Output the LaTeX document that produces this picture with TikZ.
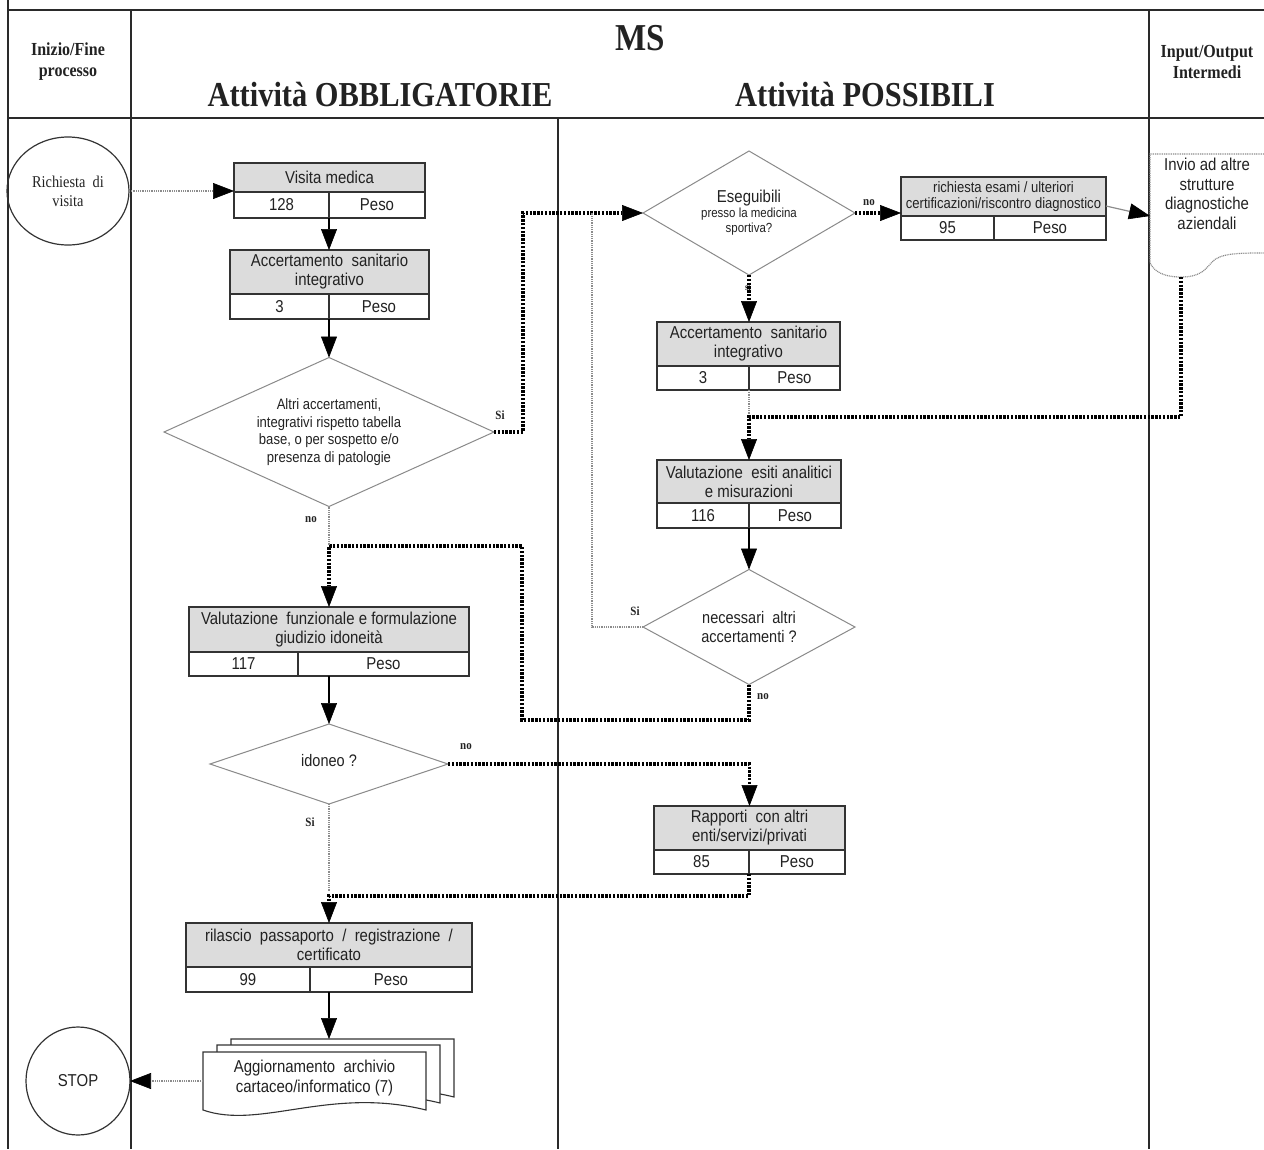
\documentclass[tikz,border=0pt]{standalone}
\usepackage{fontspec}
% the printed lettering is tall and narrow
\setmainfont{Liberation Serif}[FakeStretch=0.87]
\newfontfamily\arialf{Liberation Sans}[FakeStretch=0.87]
\usetikzlibrary{arrows.meta,shapes.geometric,calc}

\definecolor{frameline}{HTML}{2A2A2A}
\definecolor{boxline}{HTML}{333333}
\definecolor{hdrfill}{HTML}{DCDCDC}
\definecolor{diamline}{HTML}{8A8A8A}
\definecolor{txt}{HTML}{222222}
\definecolor{faint}{HTML}{8C8C8C}

\tikzset{
  frame/.style={draw=frameline, line width=1.5pt},
  lanehead/.style={align=center, text=txt, inner sep=0pt, font={\bfseries\fontsize{18.4}{21}\selectfont}},
  boxhead/.style={draw=boxline, fill=hdrfill, line width=1.3pt, anchor=north west, inner sep=1pt, outer sep=0pt,
    align=center, text=txt, font={\arialf\fontsize{17.2}{19}\selectfont}},
  boxcell/.style={draw=boxline, fill=white, line width=1.3pt, anchor=north west, inner sep=0pt, outer sep=0pt,
    text=txt, font={\arialf\fontsize{17.2}{18}\selectfont}},
  decision/.style={diamond, draw=diamline, line width=1pt, inner sep=0pt, outer sep=0pt, align=center, text=txt, fill=white},
  terminal/.style={ellipse, draw=boxline, line width=1.2pt, inner sep=0pt, outer sep=0pt, align=center, text=txt},
  sheet/.style={anchor=north west, inner sep=0pt, outer sep=0pt, minimum width=223pt, minimum height=58pt},
  sheetline/.style={draw=boxline, line width=1.1pt, fill=white},
  docline/.style={draw=faint, line width=1.2pt, dash pattern=on 1pt off 0.8pt},
  lbl/.style={font={\bfseries\fontsize{12.6}{13}\selectfont}, text=txt, inner sep=0pt},
  tip/.style={-{Triangle[length=21pt,width=16pt,line width=0.6pt,color=black]}},
  flow/.style={draw=black, line width=1.2pt, tip},
  hotflow/.style={draw=black, line width=3.2pt, dash pattern=on 2.4pt off 1.4pt, tip},
  softflow/.style={draw=faint, line width=1.3pt, dash pattern=on 1pt off 0.8pt, tip},
  softlink/.style={draw=faint, line width=1.3pt, dash pattern=on 1pt off 0.8pt},
  softsolid/.style={draw=faint, line width=1.2pt, tip},
}

\begin{document}
\begin{tikzpicture}[x=1pt,y=-1pt]
\useasboundingbox (0,0) rectangle (1264,1149);

% swimlane grid
\draw[frame] (8,10) -- (1264,10);
\draw[frame] (8,118) -- (1264,118);
\draw[frame] (8,0) -- (8,1149);
\draw[frame] (131,10) -- (131,1149);
\draw[frame] (1149,10) -- (1149,1149);
\draw[frame] (558,118) -- (558,1149);

% lane titles
\node[lanehead] (hstart) at (68,62) {Inizio/Fine\\processo};
\node[text=txt, inner sep=0pt, font={\bfseries\fontsize{38}{40}\selectfont}] (hms) at (640,38) {MS};
\node[text=txt, inner sep=0pt, font={\bfseries\fontsize{35}{38}\selectfont}] (hobb) at (380,95) {Attività OBBLIGATORIE};
\node[text=txt, inner sep=0pt, font={\bfseries\fontsize{35}{38}\selectfont}] (hposs) at (865,95) {Attività POSSIBILI};
\node[lanehead] (hio) at (1207,62) {Input/Output\\Intermedi};

% start / end
\node[terminal, minimum width=122pt, minimum height=108pt, font={\fontsize{16.5}{19}\selectfont}] (req) at (68,191) {Richiesta\ \ di\\visita};
\node[terminal, minimum width=104pt, minimum height=108pt, font={\arialf\fontsize{17.2}{18}\selectfont}] (stop) at (78,1081) {STOP};

% activity boxes: title row, count cell, weight cell
\node[boxhead, minimum width=191pt, minimum height=29pt] (vmh) at (234,163) {Visita medica};
\node[boxcell, minimum width=95pt, minimum height=26pt] (vmn) at (vmh.south west) {128};
\node[boxcell, minimum width=96pt, minimum height=26pt] (vmp) at (vmn.north east) {Peso};

\node[boxhead, minimum width=199pt, minimum height=44pt] (ach) at (230,250) {Accertamento\ \ sanitario\\integrativo};
\node[boxcell, minimum width=99pt, minimum height=25pt] (acn) at (ach.south west) {3};
\node[boxcell, minimum width=100pt, minimum height=25pt] (acp) at (acn.north east) {Peso};

\node[boxhead, minimum width=205pt, minimum height=39pt, font={\arialf\fontsize{15}{16}\selectfont}] (reh) at (901,177) {richiesta esami / ulteriori\\certificazioni/riscontro diagnostico};
\node[boxcell, minimum width=93pt, minimum height=24pt] (ren) at (reh.south west) {95};
\node[boxcell, minimum width=112pt, minimum height=24pt] (rep) at (ren.north east) {Peso};

\node[boxhead, minimum width=183pt, minimum height=44pt] (a2h) at (657,322) {Accertamento\ \ sanitario\\integrativo};
\node[boxcell, minimum width=92pt, minimum height=24pt] (a2n) at (a2h.south west) {3};
\node[boxcell, minimum width=91pt, minimum height=24pt] (a2p) at (a2n.north east) {Peso};

\node[boxhead, minimum width=184pt, minimum height=43pt] (veh) at (657,460) {Valutazione\ \ esiti analitici\\e misurazioni};
\node[boxcell, minimum width=92pt, minimum height=25pt] (ven) at (veh.south west) {116};
\node[boxcell, minimum width=92pt, minimum height=25pt] (vep) at (ven.north east) {Peso};

\node[boxhead, minimum width=280pt, minimum height=45pt] (vfh) at (189,607) {Valutazione\ \ funzionale\ e formulazione\\giudizio idoneità};
\node[boxcell, minimum width=109pt, minimum height=24pt] (vfn) at (vfh.south west) {117};
\node[boxcell, minimum width=171pt, minimum height=24pt] (vfp) at (vfn.north east) {Peso};

\node[boxhead, minimum width=191pt, minimum height=44pt] (raph) at (654,806) {Rapporti\ \ con\ altri\\enti/servizi/privati};
\node[boxcell, minimum width=95pt, minimum height=24pt] (rapn) at (raph.south west) {85};
\node[boxcell, minimum width=96pt, minimum height=24pt] (rapp) at (rapn.north east) {Peso};

\node[boxhead, minimum width=286pt, minimum height=44pt] (rilh) at (186,923) {rilascio\ \ passaporto\ \ /\ \ registrazione\ \ /\\certificato};
\node[boxcell, minimum width=124pt, minimum height=25pt] (riln) at (rilh.south west) {99};
\node[boxcell, minimum width=162pt, minimum height=25pt] (rilp) at (riln.north east) {Peso};

% decisions
\node[decision, minimum width=330pt, minimum height=149pt, shape aspect=2.2,
  font={\arialf\fontsize{15}{17.5}\selectfont}] (alt) at (329,432)
  {Altri accertamenti,\\integrativi rispetto tabella\\base, o per sospetto e/o\\presenza di patologie};
\node[decision, minimum width=212pt, minimum height=124pt, shape aspect=1.7,
  font={\arialf\fontsize{13.2}{15}\selectfont}] (esg) at (749,213)
  {{\fontsize{17.2}{18}\selectfont Eseguibili}\\presso la medicina\\sportiva?};
\node[decision, minimum width=212pt, minimum height=115pt, shape aspect=1.84,
  font={\arialf\fontsize{16.7}{19}\selectfont}] (nec) at (749,627) {necessari\ \ altri\\accertamenti ?};
\node[decision, minimum width=238pt, minimum height=80pt, shape aspect=3,
  font={\arialf\fontsize{16.7}{18}\selectfont}] (ido) at (329,764) {\raisebox{7pt}{idoneo ?}};

% intermediate output document
\node[align=center, anchor=north, inner sep=0pt, text=txt, font={\arialf\fontsize{17.2}{19.5}\selectfont}] (invio) at (1207,158)
  {Invio ad altre\\strutture\\diagnostiche\\aziendali};
\draw[docline] (1264,154) -- (1150,154) -- (1150,263)
  .. controls (1156,275) and (1170,277) .. (1181,277)
  .. controls (1200,277) and (1205,270) .. (1212,262)
  .. controls (1220,253) and (1240,253) .. (1264,253);
\coordinate (invioW) at (1150,216);
\coordinate (invioS) at (1181,277);

% archive: stacked documents
\node[sheet] (archB) at (231,1039) {};
\node[sheet] (archM) at (217,1045) {};
\node[sheet] (archF) at (203,1052) {};
\foreach \s in {archB,archM,archF}{
  \draw[sheetline] (\s.north west) -- (\s.north east) -- (\s.south east)
    .. controls ($(\s.south east)+(-96,-24)$) and ($(\s.south west)+(57,20)$) .. (\s.south west) -- cycle;
}
\node[align=center, inner sep=0pt, text=txt, font={\arialf\fontsize{17.2}{20}\selectfont}] (archT) at ($(archF.center)+(0,-3)$)
  {Aggiornamento\ \ archivio\\cartaceo/informatico\ (7)};

% branch labels
\node[lbl] (lsi1) at (500,415) {Si};
\node[lbl] (lno1) at (311,520) {no};
\node[lbl] (lno2) at (869,203) {no};
\node[lbl, font={\bfseries\fontsize{10}{10}\selectfont}] (lsi2) at (748,287) {si};
\node[lbl] (lsi3) at (635,611) {Si};
\node[lbl] (lno3) at (763,697) {no};
\node[lbl] (lno4) at (466,747) {no};
\node[lbl] (lsi4) at (310,822) {Si};

% junction points of merging flows
\coordinate (j1) at (749,417);
\coordinate (j2) at (592,213);
\coordinate (bendA) at (522,720);
\coordinate (bendB) at (522,546);

% flows
\draw[softflow] (req.east) -- (vmh.west |- req.east);
\draw[flow] (vmn.south east) -- (vmn.south east |- ach.north);
\draw[flow] (acn.south east) -- (acn.south east |- alt.north);
\draw[hotflow] (alt.east) -- ++(29,0) |- (esg.west);
\draw[hotflow] (esg.east) -- (esg.east -| reh.west);
\draw[softsolid] ($(reh.south east)+(0,-10)$) -- (invioW);
\draw[hotflow] (esg.south) -- (esg.south |- a2h.north);
\draw[softlink] (a2n.south east) -- (j1);
\draw[hotflow] (invioS) |- (j1) -- (j1 |- veh.north);
\draw[flow] (ven.south east) -- (ven.south east |- nec.north);
\draw[softlink] (nec.west) -| (j2);
\draw[hotflow] (nec.south) |- (bendA) -- (bendB) -| (vfh.north);
\draw[softlink] (alt.south) -- (alt.south |- bendB);
\draw[flow] (vfh.south |- vfn.south) -- (ido.north);
\draw[hotflow] (ido.east) -| (raph.north);
\draw[softlink] (ido.south) -- ++(0,88);
\draw[hotflow] (rapn.south east) -- ++(0,22) -| (rilh.north);
\draw[flow] (rilh.south |- riln.south) -- (rilh.south |- archB.north);
\draw[softflow] (archF.west) -- (stop.east);
\end{tikzpicture}
\end{document}
